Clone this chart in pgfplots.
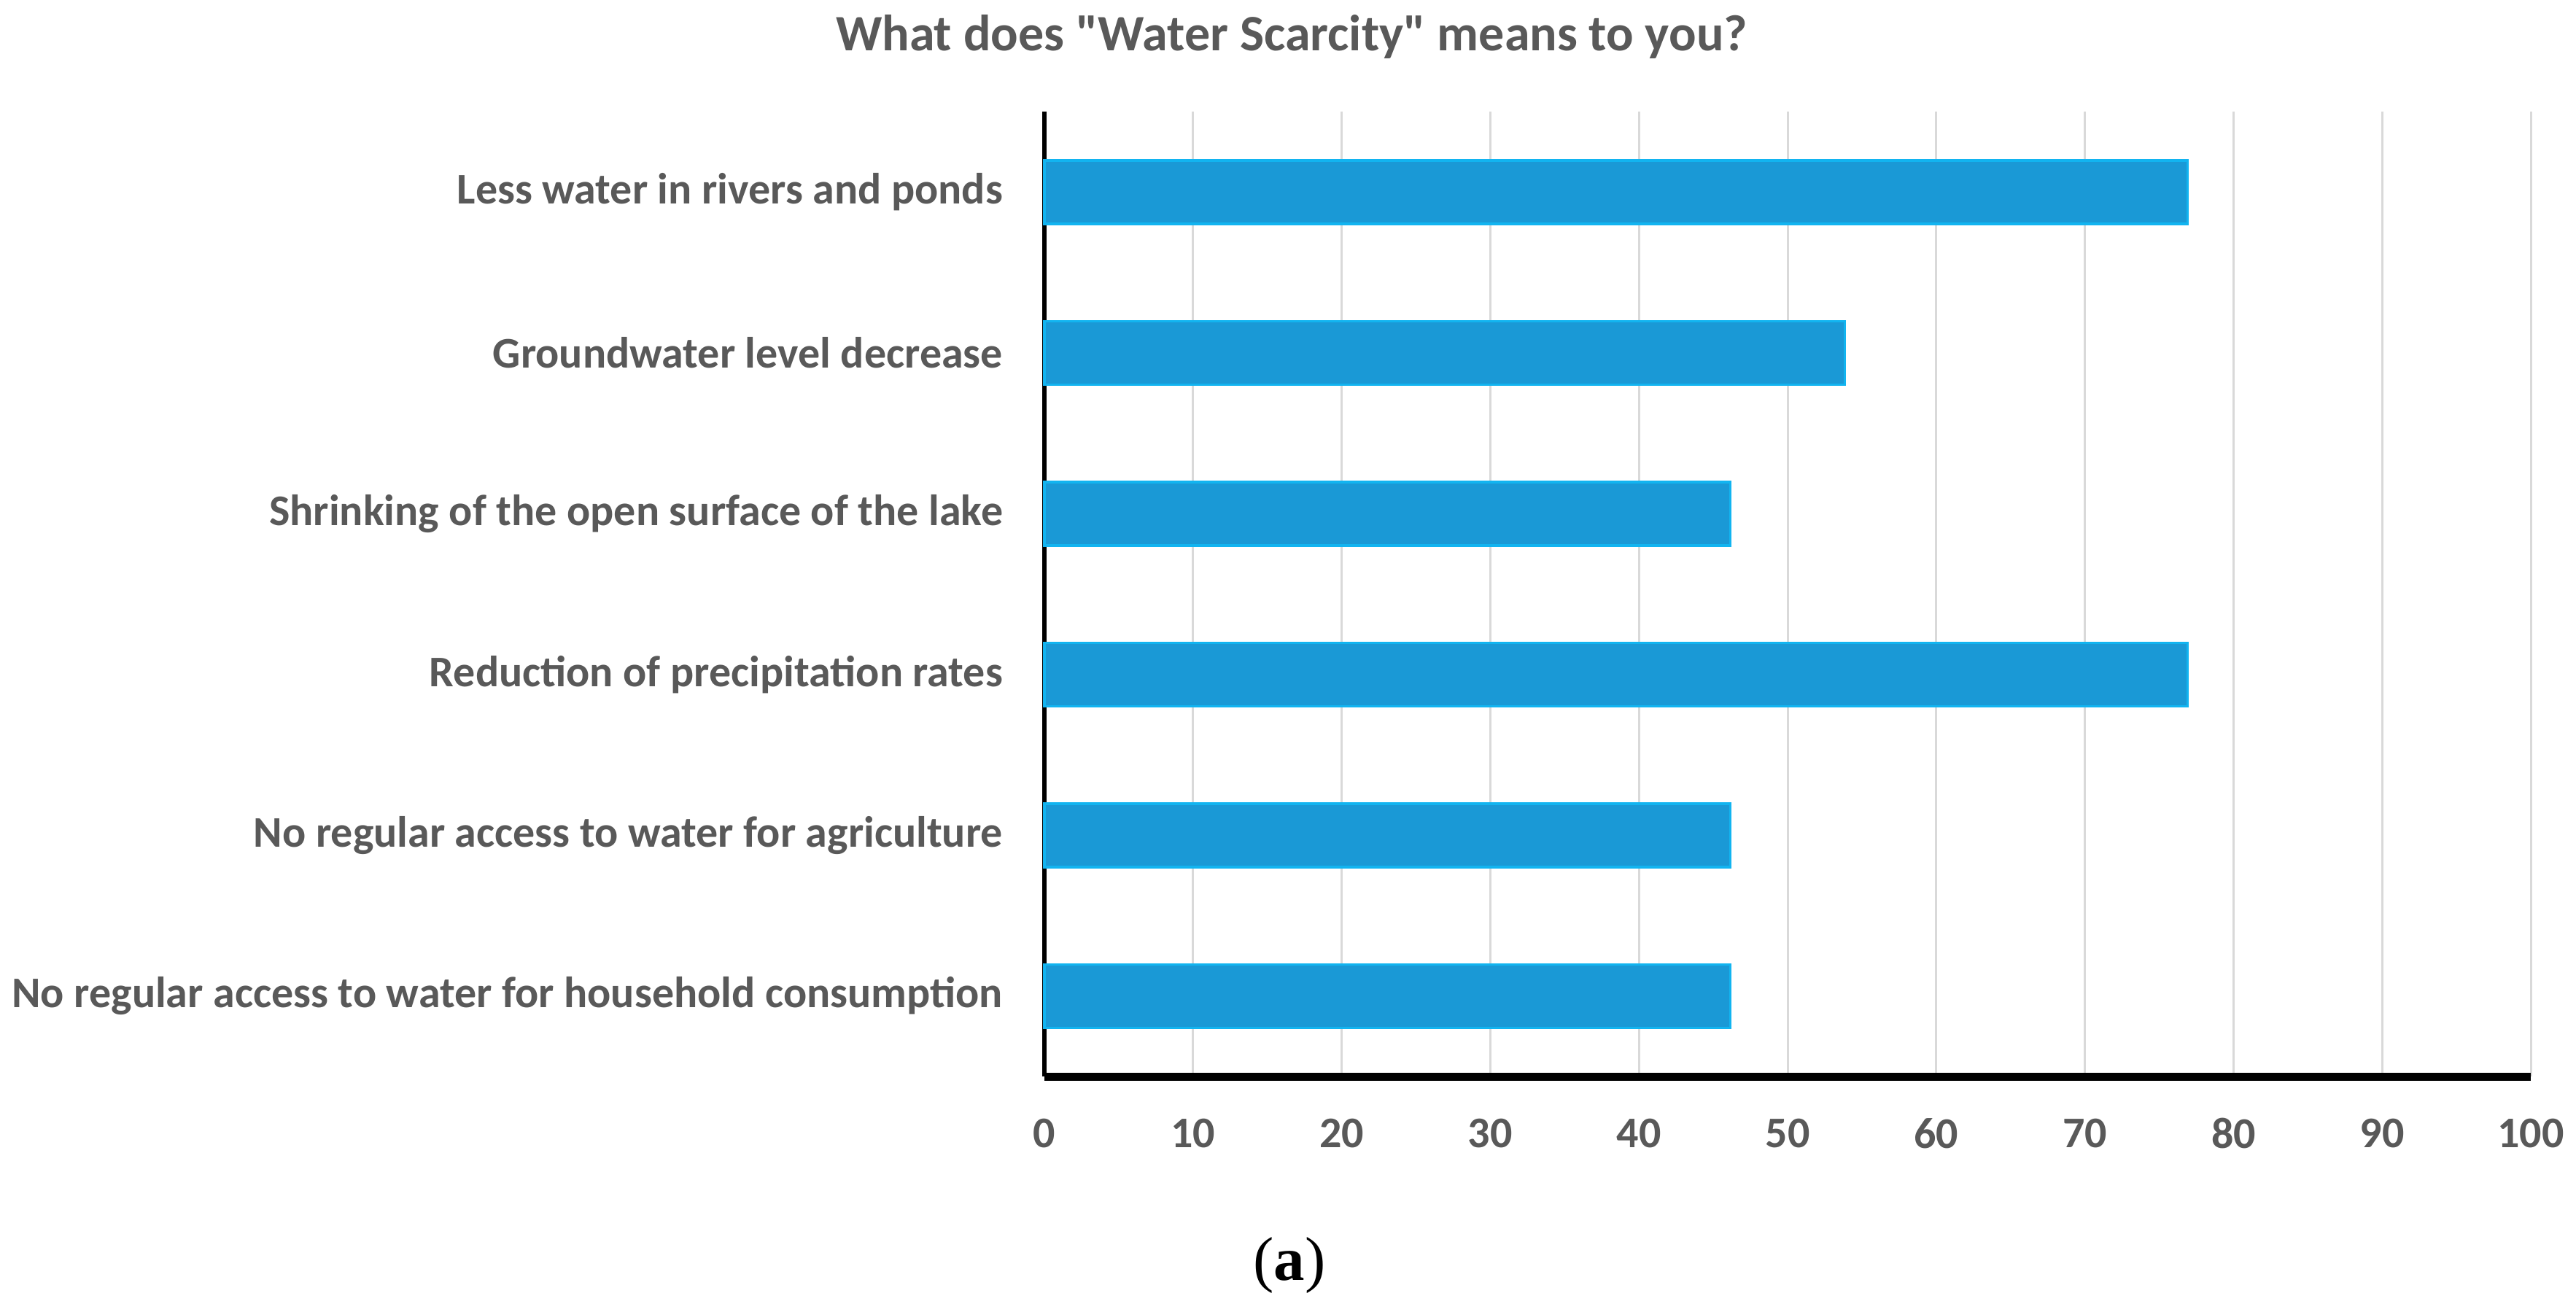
\documentclass[border=0pt]{standalone}
\usepackage{fontspec}
\setmainfont{Carlito}[Ligatures=TeXOff]
\newfontfamily\seriffont{Liberation Serif}
\usepackage{pgfplots}
\pgfplotsset{compat=1.18}
\definecolor{labgrey}{HTML}{595959}
\definecolor{gridgrey}{HTML}{D9D9D9}
\definecolor{barfill}{HTML}{1A99D6}
\definecolor{baredge}{HTML}{12B4F0}
\begin{document}
\begin{tikzpicture}
\path[use as bounding box] (0pt,0pt) rectangle (706.4pt,-359.6pt);
\begin{axis}[
  at={(286.4pt,-295.2pt)}, anchor=south west,
  scale only axis, width=407.6pt, height=264.6pt,
  xbar, bar width=17.4pt,
  xmin=0, xmax=100, ymin=-0.5, ymax=5.5,
  xtick={0,10,...,100},
  ytick={0,1,2,3,4,5},
  yticklabels={No regular access to water for household consumption,
    No regular access to water for agriculture,
    Reduction of precipitation rates,
    Shrinking of the open surface of the lake,
    Groundwater level decrease,
    Less water in rivers and ponds},
  axis lines*=left,
  x axis line style={line width=2.2pt, black},
  y axis line style={line width=1.2pt, black},
  major tick length=0pt,
  xmajorgrids, grid style={gridgrey, line width=0.6pt},
  /pgf/number format/assume math mode=true,
  xticklabel style={font=\bfseries\fontsize{12}{14}\selectfont, text=labgrey, anchor=center, inner sep=0pt},
  xticklabel shift=15.6pt,
  yticklabel style={font=\bfseries\fontsize{12}{14}\selectfont, text=labgrey, anchor=east, inner sep=0pt},
  yticklabel shift=11.2pt,
  clip=false,
]
\addplot[fill=barfill, draw=baredge, line width=0.7pt] coordinates {
  (46.15,0) (46.15,1) (76.92,2) (46.15,3) (53.85,4) (76.92,5)
};
\end{axis}
\node[font=\bfseries\fontsize{14}{16}\selectfont, text=labgrey] at (354.2pt,-10pt) {What does "Water Scarcity" means to you?};
\node[font=\seriffont\fontsize{17}{19}\selectfont] at (353.6pt,-347pt) {(\textbf{a})};
\end{tikzpicture}
\end{document}
